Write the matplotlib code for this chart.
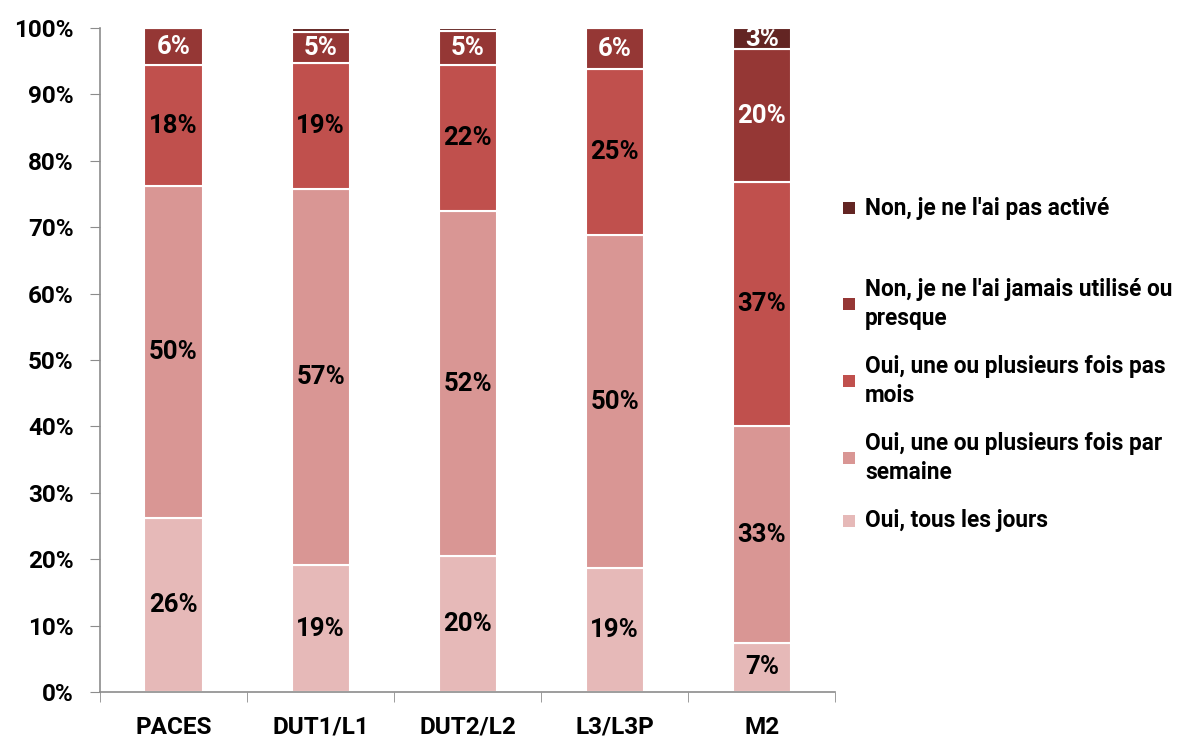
import matplotlib.pyplot as plt
from matplotlib.patches import Rectangle
import numpy as np

plt.rcParams['font.family'] = ['Roboto', 'DejaVu Sans']

# Data (percent)
categories = ["PACES", "DUT1/L1", "DUT2/L2", "L3/L3P", "M2"]
series_names = [
    "Oui, tous les jours",
    "Oui, une ou plusieurs fois par\nsemaine",
    "Oui, une ou plusieurs fois pas\nmois",
    "Non, je ne l'ai jamais utilisé ou\npresque",
    "Non, je ne l'ai pas activé",
]
tous_les_jours = [26.2, 19.1, 20.5, 18.6, 7.4]
par_semaine = [50.0, 56.7, 51.9, 50.2, 32.6]
par_mois = [18.2, 18.9, 22.0, 25.0, 36.8]
jamais = [5.6, 4.7, 5.2, 6.2, 20.0]
pas_active = [0.0, 0.6, 0.4, 0.0, 3.2]

values = [tous_les_jours, par_semaine, par_mois, jamais, pas_active]
colors = ["#E6B9B8", "#D99694", "#C0504D", "#953735", "#632523"]
text_colors = ["black", "black", "black", "white", "white"]

fig = plt.figure(figsize=(11.9, 7.4), dpi=100)
ax = fig.add_axes([0.084, 0.065, 0.618, 0.897])

x = np.arange(len(categories))
bottom = np.zeros(len(categories))
for vals, col, tc, name in zip(values, colors, text_colors, series_names):
    vals = np.array(vals)
    ax.bar(x, vals, 0.395, bottom=bottom, color=col,
           edgecolor="white", linewidth=1.5, label=name, zorder=2)
    for xi, v, b in zip(x, vals, bottom):
        if v >= 2.5:
            ax.text(xi, b + v / 2, f"{round(v):.0f}%", ha="center", va="center",
                    color=tc, fontsize=18.5, fontweight="bold", zorder=3)
    bottom += vals

ax.set_xlim(-0.5, len(categories) - 0.5)
ax.set_ylim(0, 100)
ax.set_yticks(np.arange(0, 101, 10))
ax.set_yticklabels([f"{v}%" for v in range(0, 101, 10)])
ax.set_xticks(x)
ax.set_xticklabels(categories)
ax.set_xticks(np.arange(-0.5, len(categories)), minor=True)

for s in ["top", "right"]:
    ax.spines[s].set_visible(False)
for s in ["left", "bottom"]:
    ax.spines[s].set_color("#8C8C8C")
    ax.spines[s].set_linewidth(1.2)

ax.tick_params(axis="y", direction="out", length=7, color="#8C8C8C",
               labelsize=17.5, pad=12)
ax.tick_params(axis="x", which="major", length=0, labelsize=17.5, pad=17)
ax.tick_params(axis="x", which="minor", direction="out", length=7, color="#8C8C8C")
for lbl in ax.get_xticklabels() + ax.get_yticklabels():
    lbl.set_fontweight("bold")

# legend, drawn by hand to follow the uneven spacing of the original
legend_y = [521, 458, 381, 304, 208]  # pixel rows from top, for series order
W, H = 1190, 740
for name, col, yy in zip(series_names, colors, legend_y):
    yf = 1 - yy / H
    fig.patches.append(Rectangle((843 / W, yf - 6 / H), 12 / W, 12 / H,
                                 transform=fig.transFigure, facecolor=col,
                                 edgecolor="none"))
    fig.text(865 / W, yf, name, ha="left", va="center", fontsize=16.3,
             fontweight="bold", linespacing=1.3)

fig.savefig("out.png", dpi=100)
